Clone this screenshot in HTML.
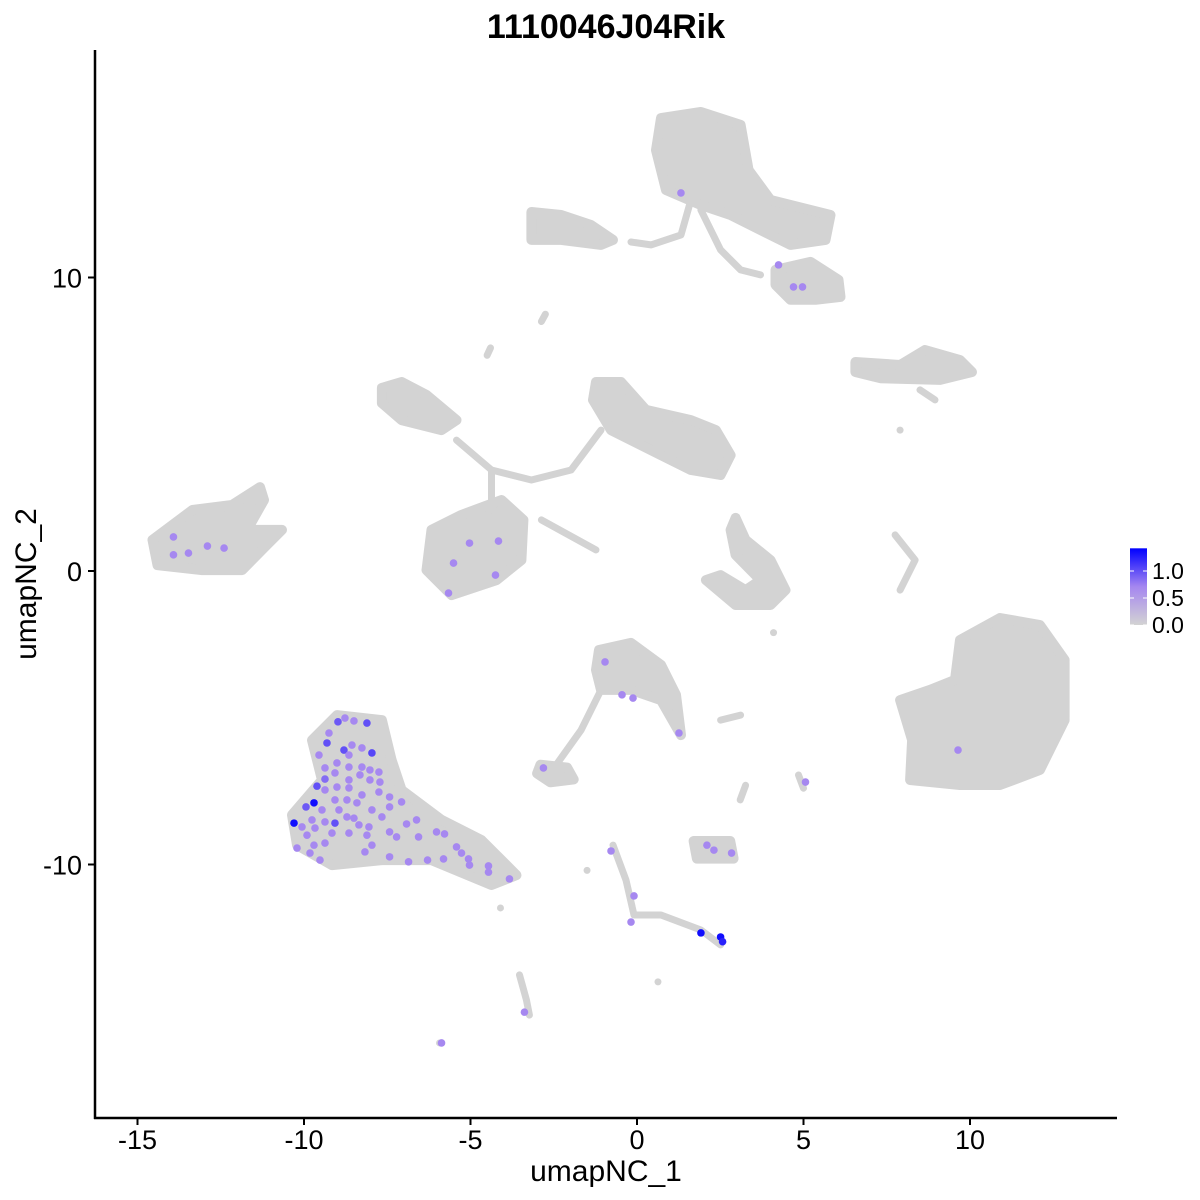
<!DOCTYPE html>
<html><head><meta charset="utf-8">
<style>
html,body{margin:0;padding:0;background:#fff;}
svg{display:block;font-family:"Liberation Sans",Arial,sans-serif;}
</style></head>
<body>
<svg id="chart" width="1200" height="1200" viewBox="0 0 1200 1200">
<text x="606" y="38" text-anchor="middle" font-size="34" font-weight="bold" fill="#000">1110046J04Rik</text>
<g id="clusters"></g>
<g id="points"></g>
<g id="axes"></g>
<text x="606" y="1181" text-anchor="middle" font-size="30">umapNC_1</text>
<text x="0" y="0" transform="translate(36,584) rotate(-90)" text-anchor="middle" font-size="30">umapNC_2</text>
<g id="legend"></g>
</svg>
<script>
// ---- data ----
const xTicks = [-15, -10, -5, 0, 5, 10];
const yTicks = [-10, 0, 10];
const legendTicks = [0.0, 0.5, 1.0];
const legendMax = 1.42;
// cluster outlines (data coords)
const blobs = [
 [[0.72,15.43],[1.92,15.64],[3.11,15.20],[3.35,13.66],[4.01,12.64],[5.81,12.13],[5.66,11.28],[4.61,11.11],[3.71,11.62],[2.81,12.13],[1.92,12.47],[0.87,12.98],[0.57,14.34]],
 [[4.16,10.26],[5.21,10.53],[6.05,9.92],[6.11,9.34],[5.36,9.24],[4.61,9.24],[4.16,9.75]],
 [[-3.17,12.23],[-2.28,12.13],[-1.38,11.79],[-0.72,11.28],[-1.08,11.11],[-2.28,11.28],[-3.17,11.28]],
 [[6.56,7.12],[7.90,7.02],[8.65,7.53],[9.70,7.19],[10.06,6.78],[9.10,6.51],[7.31,6.57],[6.56,6.78]],
 [[-7.66,6.24],[-7.07,6.44],[-6.32,6.00],[-5.42,5.14],[-5.87,4.80],[-7.07,5.14],[-7.66,5.72]],
 [[-1.23,6.44],[-0.48,6.44],[0.27,5.49],[1.62,5.14],[2.37,4.80],[2.81,3.95],[2.51,3.27],[1.62,3.44],[0.72,3.95],[0.12,4.29],[-0.78,4.80],[-1.32,5.83]],
 [[-6.17,1.40],[-5.27,1.91],[-4.07,2.42],[-3.41,1.74],[-3.47,0.37],[-4.22,-0.31],[-5.57,-0.82],[-6.32,0.03]],
 [[-14.55,1.06],[-13.35,2.08],[-12.16,2.25],[-11.32,2.86],[-11.20,2.42],[-11.71,1.40],[-10.66,1.40],[-11.11,0.89],[-11.86,0.03],[-13.05,0.03],[-14.40,0.20]],
 [[2.96,1.81],[3.26,1.06],[4.01,0.37],[4.46,-0.65],[4.01,-1.16],[2.96,-1.16],[2.07,-0.31],[2.51,-0.14],[3.26,-0.65],[3.71,-0.31],[2.96,0.55],[2.81,1.40]],
 [[-1.14,-2.69],[-0.18,-2.45],[0.72,-3.20],[1.17,-4.22],[1.32,-5.59],[0.72,-4.40],[-0.18,-4.05],[-1.08,-4.05],[-1.23,-3.37]],
 [[9.70,-2.35],[10.90,-1.60],[12.10,-1.84],[12.84,-3.03],[12.84,-5.08],[12.10,-6.78],[10.90,-7.29],[9.70,-7.29],[8.20,-7.12],[8.26,-5.76],[7.90,-4.40],[8.80,-4.05],[9.55,-3.71]],
 [[-9.01,-4.91],[-7.66,-5.08],[-7.37,-6.44],[-7.07,-7.46],[-5.87,-8.48],[-4.67,-9.17],[-3.62,-10.36],[-4.37,-10.70],[-6.17,-9.85],[-7.66,-9.85],[-9.16,-10.02],[-10.21,-9.34],[-10.36,-8.31],[-9.46,-7.12],[-9.76,-5.76]],
 [[-2.9,-6.6],[-2.1,-6.7],[-1.9,-7.1],[-2.6,-7.2],[-3.0,-6.9]],
 [[1.7,-9.2],[2.8,-9.2],[2.9,-9.8],[1.8,-9.8]]
];
const threads = [
 [[1.62,12.64],[1.32,11.45],[0.42,11.11],[-0.18,11.21]],
 [[1.92,12.30],[2.51,10.94],[3.11,10.26],[3.71,10.09]],
 [[8.50,6.17],[8.95,5.83]],
 [[-5.42,4.46],[-4.37,3.44],[-3.17,3.10],[-1.98,3.44],[-1.08,4.80]],
 [[-4.37,3.44],[-4.37,2.08]],
 [[-2.87,1.74],[-1.23,0.72]],
 [[7.75,1.23],[8.35,0.37],[7.90,-0.65]],
 [[-1.08,-4.05],[-1.68,-5.42],[-2.43,-6.61],[-2.72,-6.78]],
 [[-0.72,-9.34],[-0.33,-10.53],[-0.09,-11.72],[0.72,-11.72],[1.92,-12.23],[2.51,-12.74]],
 [[2.51,-5.08],[3.11,-4.91]],
 [[4.85,-6.95],[5.0,-7.4]],
 [[3.26,-7.3],[3.1,-7.8]],
 [[-3.53,-13.76],[-3.32,-14.61],[-3.23,-15.13]],
 [[-2.87,8.5],[-2.75,8.75]],
 [[-4.5,7.35],[-4.4,7.6]]
];
const singles = [[-5.93,-16.08],[0.63,-14.0],[-4.10,-11.48],[7.9,4.8],[4.1,-2.1],[-1.5,-10.2]];
// expressing cells
const cellX = [1.32,4.25,4.70,4.97,-13.92,-13.92,-13.47,-12.90,-12.40,-5.51,-5.66,-5.03,-4.16,-4.25,-0.96,-0.45,-0.12,1.26,-2.81,9.64,5.06,-0.78,-0.09,-0.18,1.92,2.51,2.57,2.10,2.31,2.84,-3.38,-5.87,
 -10.30,-9.70,-9.94,-8.98,-8.11,-7.96,-8.80,-9.31,-9.07,-9.61,-9.37,
 -8.77,-8.50,-9.25,-8.56,-8.26,-9.55,-8.65,-9.01,-8.65,-8.26,-8.02,-7.75,-9.37,-9.07,-8.65,-8.32,-8.02,-7.72,-9.01,-8.65,-9.37,-8.26,-7.75,-7.43,-7.07,-9.07,-8.71,-9.46,-8.95,-8.41,-7.43,-7.96,-9.76,-9.37,-8.71,-8.50,-7.66,-6.92,-6.62,-10.06,-9.67,-8.35,-8.05,-7.43,-9.16,-8.65,-8.11,-7.22,-6.56,-6.02,-5.78,-9.91,-9.37,-7.96,-9.70,-10.21,-8.17,-9.82,-7.43,-9.52,-6.29,-5.81,-5.42,-5.27,-5.06,-5.03,-4.46,-4.46,-3.83,-6.86];
const cellY = [12.88,10.43,9.68,9.68,1.16,0.55,0.61,0.85,0.78,0.27,-0.75,0.95,1.02,-0.14,-3.10,-4.22,-4.33,-5.52,-6.71,-6.10,-7.19,-9.54,-11.07,-11.96,-12.33,-12.47,-12.63,-9.34,-9.51,-9.61,-15.03,-16.08,
 -8.59,-7.90,-8.04,-5.14,-5.18,-6.20,-6.10,-5.86,-8.59,-7.33,-7.09,
 -5.01,-5.11,-5.52,-5.93,-6.03,-6.27,-6.27,-6.54,-6.68,-6.68,-6.78,-6.85,-6.71,-6.88,-7.12,-6.95,-7.12,-7.19,-7.36,-7.39,-7.46,-7.63,-7.53,-7.70,-7.87,-7.80,-7.80,-8.14,-8.14,-7.90,-8.04,-8.14,-8.48,-8.55,-8.38,-8.42,-8.38,-8.62,-8.48,-8.72,-8.76,-8.65,-8.72,-8.89,-8.93,-8.93,-9.00,-9.06,-9.06,-8.89,-8.96,-9.00,-9.27,-9.34,-9.34,-9.44,-9.57,-9.61,-9.74,-9.85,-9.85,-9.81,-9.40,-9.61,-9.81,-10.02,-10.05,-10.26,-10.49,-9.91];
const cellVal = [0.7,0.7,0.7,0.7,0.7,0.7,0.7,0.7,0.7,0.7,0.7,0.7,0.7,0.7,0.7,0.7,0.7,0.7,0.7,0.7,0.7,0.7,0.7,0.7,1.35,1.35,1.25,0.7,0.7,0.7,0.7,0.7,
 1.35,1.35,0.95,0.95,1.0,1.05,1.0,1.0,1.0,1.0,0.85,
 0.7,0.7,0.7,0.7,0.7,0.7,0.7,0.7,0.7,0.7,0.7,0.7,0.7,0.7,0.7,0.7,0.7,0.7,0.7,0.7,0.7,0.7,0.7,0.7,0.7,0.7,0.7,0.7,0.7,0.7,0.7,0.7,0.7,0.7,0.7,0.7,0.7,0.7,0.7,0.7,0.7,0.7,0.7,0.7,0.7,0.7,0.7,0.7,0.7,0.7,0.7,0.7,0.7,0.7,0.7,0.7,0.7,0.7,0.7,0.7,0.7,0.7,0.7,0.7,0.7,0.7,0.7,0.7,0.7,0.7,0.7];

// ---- scales ----
const sx = v => 637 + v * 33.3;
const sy = v => 571 - v * 29.35;
const NS = "http://www.w3.org/2000/svg";
// Lab-like path: grey -> purple -> blue
const STOPS = [[0,[211,211,211]],[0.5,[165,135,240]],[1,[0,0,255]]];
function col(v){
  const t=Math.max(0,Math.min(1,v/legendMax));
  let a=STOPS[0],b=STOPS[1];
  if(t>STOPS[1][0]){a=STOPS[1];b=STOPS[2];}
  const f=(t-a[0])/(b[0]-a[0]);
  return "rgb("+a[1].map((c,i)=>Math.round(c+(b[1][i]-c)*f)).join(",")+")";
}
const ptsStr = arr => arr.map(p => sx(p[0]).toFixed(1)+","+sy(p[1]).toFixed(1)).join(" ");

const cg = document.getElementById("clusters");
blobs.forEach(b => {
  const el = document.createElementNS(NS,"polygon");
  el.setAttribute("points", ptsStr(b));
  el.setAttribute("fill","#D3D3D3");
  el.setAttribute("stroke","#D3D3D3");
  el.setAttribute("stroke-width","10");
  el.setAttribute("stroke-linejoin","round");
  
  
  cg.appendChild(el);
});
threads.forEach(t => {
  const el = document.createElementNS(NS,"polyline");
  el.setAttribute("points", ptsStr(t));
  el.setAttribute("fill","none");
  el.setAttribute("stroke","#D3D3D3");
  el.setAttribute("stroke-width","7");
  el.setAttribute("stroke-linejoin","round");
  el.setAttribute("stroke-linecap","round");
  
  
  cg.appendChild(el);
});
singles.forEach(p => {
  const el = document.createElementNS(NS,"circle");
  el.setAttribute("cx", sx(p[0])); el.setAttribute("cy", sy(p[1])); el.setAttribute("r", 3.5);
  el.setAttribute("fill","#D3D3D3");
  
  
  cg.appendChild(el);
});
const pg = document.getElementById("points");
cellX.forEach((x,i) => {
  const el = document.createElementNS(NS,"circle");
  el.setAttribute("cx", sx(x)); el.setAttribute("cy", sy(cellY[i])); el.setAttribute("r", 3.8);
  el.setAttribute("fill", col(cellVal[i]));
  
  
  pg.appendChild(el);
});

// ---- axes ----
const ag = document.getElementById("axes");
function line(x1,y1,x2,y2,w,name){const l=document.createElementNS(NS,"line");l.setAttribute("x1",x1);l.setAttribute("y1",y1);l.setAttribute("x2",x2);l.setAttribute("y2",y2);l.setAttribute("stroke","#000");l.setAttribute("stroke-width",w);
 
 
 ag.appendChild(l);}
line(95,50,95,1119,2.5,'y-axis-line');
line(94,1118,1117,1118,2.5,'x-axis-line');
xTicks.forEach(v => {
  line(sx(v),1118,sx(v),1125,2,'x-tick');
  const t=document.createElementNS(NS,"text");
  t.setAttribute("x",sx(v)); t.setAttribute("y",1149); t.setAttribute("text-anchor","middle"); t.setAttribute("font-size","27");
  t.textContent = v;
  
  
  ag.appendChild(t);
});
yTicks.forEach(v => {
  line(88,sy(v),95,sy(v),2,'y-tick');
  const t=document.createElementNS(NS,"text");
  t.setAttribute("x",82); t.setAttribute("y",sy(v)+10); t.setAttribute("text-anchor","end"); t.setAttribute("font-size","27");
  t.textContent = v;
  
  
  ag.appendChild(t);
});

// ---- legend ----
const lg = document.getElementById("legend");
const ly = v => 625 - v * 54;
lg.innerHTML = '<defs><linearGradient id="grad" x1="0" y1="1" x2="0" y2="0"><stop offset="0" stop-color="#D3D3D3"/><stop offset="0.5" stop-color="#A587F0"/><stop offset="1" stop-color="#0000FF"/></linearGradient></defs>';
const bar = document.createElementNS(NS,"rect");
bar.setAttribute("x",1130); bar.setAttribute("y",ly(legendMax)); bar.setAttribute("width",17); bar.setAttribute("height",ly(0)-ly(legendMax)); bar.setAttribute("fill","url(#grad)");


lg.appendChild(bar);
legendTicks.forEach(v => {
  const t=document.createElementNS(NS,"text");
  t.setAttribute("x",1152); t.setAttribute("y",ly(v)+8); t.setAttribute("font-size","23");
  t.textContent = v.toFixed(1);
  
  
  lg.appendChild(t);
  [1130,1143].forEach(x0=>{const l=document.createElementNS(NS,"line");l.setAttribute("x1",x0);l.setAttribute("x2",x0+4);l.setAttribute("y1",ly(v));l.setAttribute("y2",ly(v));l.setAttribute("stroke","#fff");l.setAttribute("stroke-width",1);
   
   
   lg.appendChild(l);});
});
</script>
</body></html>
